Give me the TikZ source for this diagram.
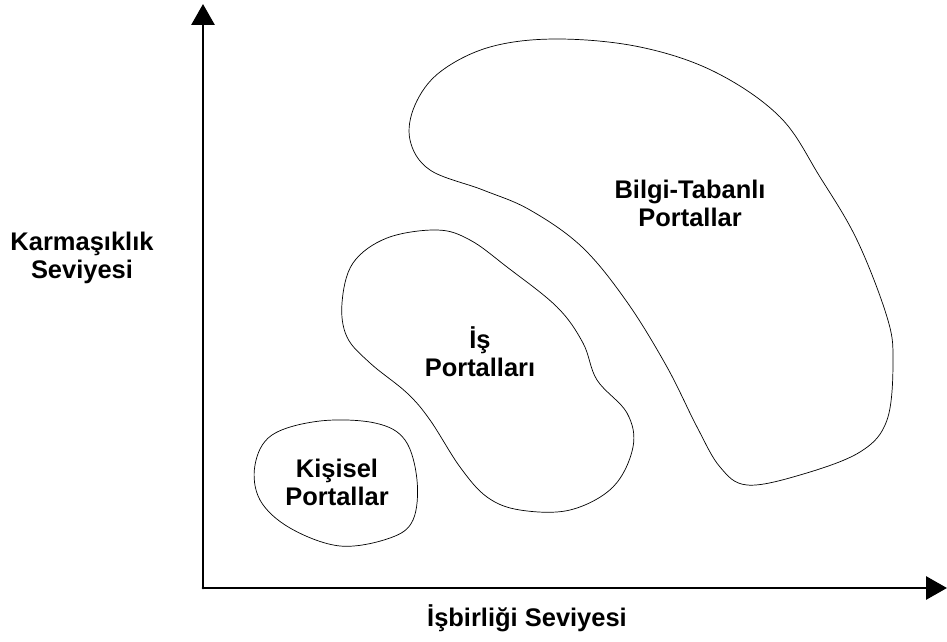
\documentclass[tikz,border=0pt]{standalone}
\usepackage{fontspec}
\setmainfont{Liberation Sans}
\usetikzlibrary{arrows.meta}

\begin{document}
\begin{tikzpicture}[x=0.02cm, y=-0.02cm, line cap=round, line join=round]
    \tikzset{
        axis/.style={line width=1.7pt, -{Triangle[length=0.42cm, width=0.46cm]}},
        region/.style={draw=black!65, line width=0.6pt, smooth cycle, tension=0.6},
        lbl/.style={font=\bfseries\fontsize{14.5}{16}\selectfont, align=center, inner sep=0pt}
    }
    \useasboundingbox (0,0) rectangle (947,642);

    % Eksenler
    \coordinate (origin) at (203,588);
    \coordinate (ytip) at (203,4);
    \coordinate (xtip) at (947,588);
    \draw[axis] (origin) -- (ytip);
    \draw[axis] (origin) -- (xtip);

    % Eksen etiketleri
    \node[lbl] (ylabel) at (82,258) {Karmaşıklık\\Seviyesi};
    \node[lbl] (xlabel) at (527,618) {İşbirliği Seviyesi};

    % Bölgeler
    \draw plot[region] coordinates {(320,421) (375,423) (405,440) (417,480) (413,520)
        (390,538) (340,546) (290,528) (260,500) (255,465) (272,435)};
    \draw plot[region] coordinates {(437,230) (470,240) (507,267) (557,307) (583,343)
        (597,380) (627,413) (633,447) (613,487) (570,510) (520,510) (487,497)
        (460,467) (430,420) (407,393) (370,363) (347,337) (342,303) (353,263) (387,238)};
    \draw plot[region] coordinates {(557,39) (640,47) (715,72) (780,117) (820,177)
        (857,240) (887,317) (893,360) (887,420) (860,452) (800,475) (747,485)
        (720,467) (697,427) (667,367) (627,302) (582,247) (530,210) (483,190)
        (430,170) (410,140) (415,105) (440,72) (490,47)};

    % Bölge etiketleri
    \node[lbl] (kisisel) at (337,482) {Kişisel\\Portallar};
    \node[lbl] (is) at (480,352) {İş\\Portalları};
    \node[lbl] (bilgi) at (690,203) {Bilgi-Tabanlı\\Portallar};
\end{tikzpicture}
\end{document}
